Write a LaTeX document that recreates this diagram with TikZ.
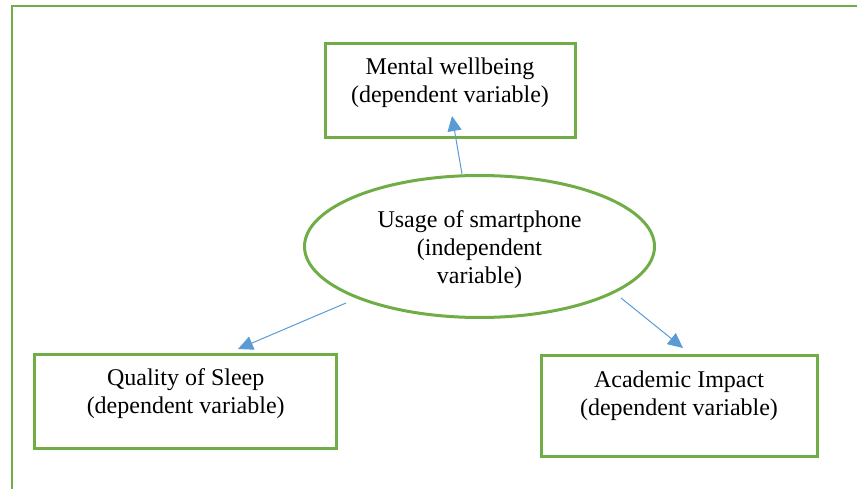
\documentclass[tikz,border=0pt]{standalone}
\usepackage{fontspec}
\setmainfont{Liberation Serif}
\usetikzlibrary{arrows.meta,shapes.geometric}
\definecolor{boxgreen}{HTML}{70AD47}
\definecolor{arrowblue}{HTML}{5B9BD5}
\begin{document}
\begin{tikzpicture}[x=1pt,y=-1pt,
  dbox/.style={draw=boxgreen, line width=3pt, rectangle, inner sep=0pt},
  ellbox/.style={draw=boxgreen, line width=3pt, ellipse, inner sep=0pt},
  txt/.style={font=\fontsize{24}{28}\selectfont, align=center, inner sep=0pt},
  arr/.style={draw=arrowblue, line width=1pt, -{Triangle[length=15pt,width=14pt]}}]
\useasboundingbox (0,0) rectangle (857,489);
% outer frame (only left and top edges visible)
\draw[boxgreen, line width=2.4pt] (12,520) -- (12,5.8) -- (880,5.8);
% shapes
\node[dbox, minimum width=250pt, minimum height=94pt] (mental) at (450,90.3) {};
\node[dbox, minimum width=302pt, minimum height=94pt] (sleep) at (185.7,401) {};
\node[dbox, minimum width=276pt, minimum height=101pt] (acad) at (679,405.5) {};
\node[ellbox, minimum width=350pt, minimum height=142pt] (usage) at (479.5,246.5) {};
% texts
\node[txt] (mentalt) at (450,82.5) {Mental wellbeing\\(dependent variable)};
\node[txt] (sleept) at (185.7,394) {Quality of Sleep\\(dependent variable)};
\node[txt] (acadt) at (679,395.5) {Academic Impact\\(dependent variable)};
\node[txt] (usaget) at (479.5,249.5) {Usage of smartphone\\(independent\\variable)};
% connector ends
\coordinate (a1s) at (462,174);
\coordinate (a1e) at (452,116);
\coordinate (a2s) at (346,303);
\coordinate (a2e) at (238,349);
\coordinate (a3s) at (621,298);
\coordinate (a3e) at (683,348);
\draw[arr] (a1s) -- (a1e);
\draw[arr] (a2s) -- (a2e);
\draw[arr] (a3s) -- (a3e);
\end{tikzpicture}
\end{document}
